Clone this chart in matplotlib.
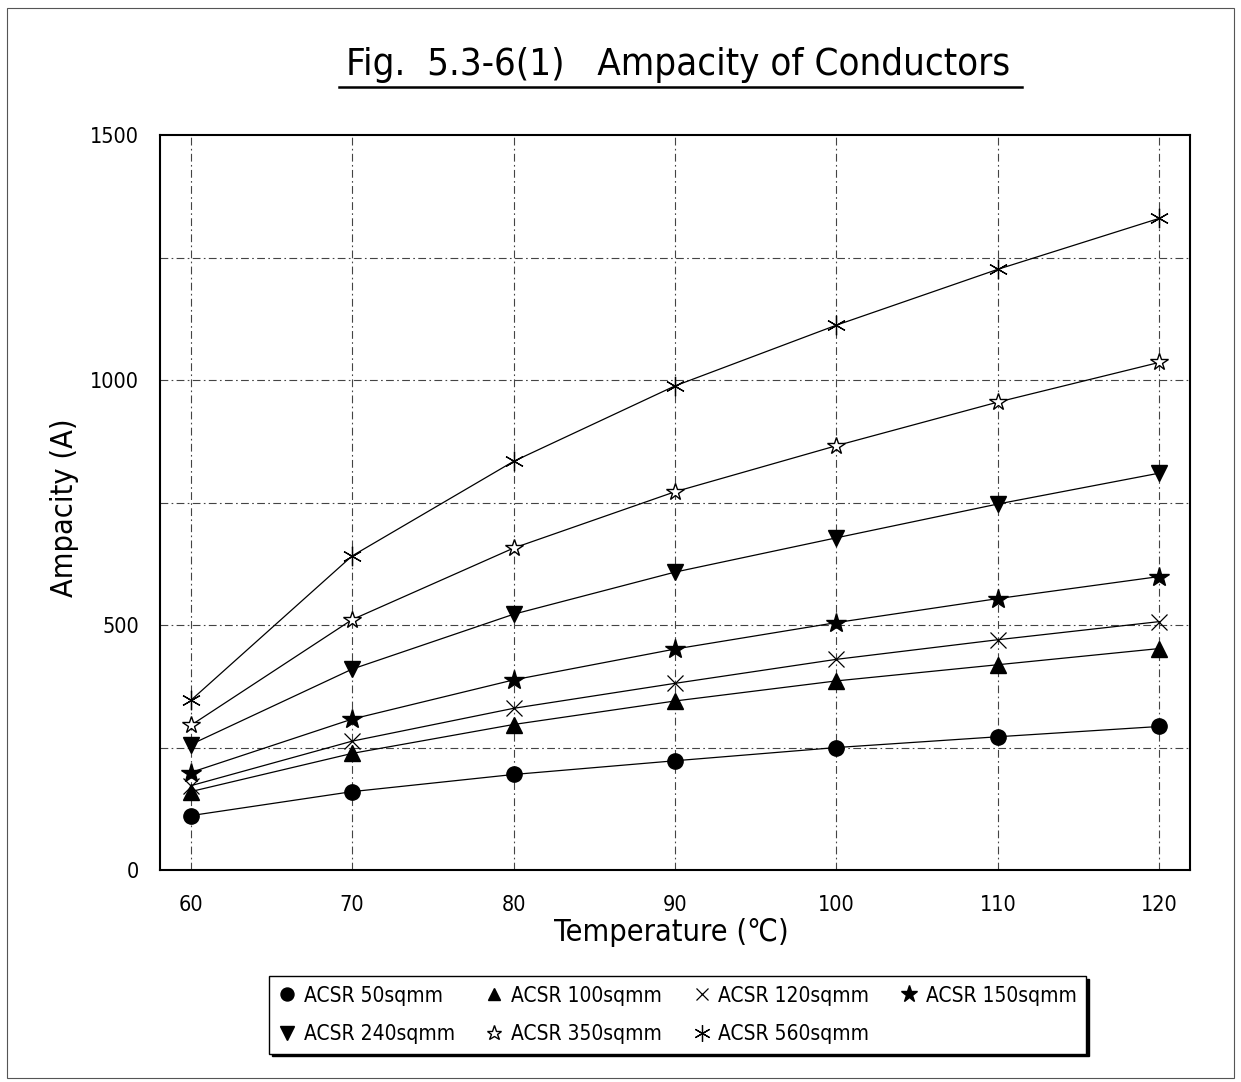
import matplotlib
matplotlib.use("Agg")
import matplotlib.pyplot as plt
from matplotlib.patches import Rectangle
from matplotlib.lines import Line2D

plt.rcParams['font.family'] = ['DejaVu Sans']
plt.rcParams['font.stretch'] = 'condensed'

temps = [60, 70, 80, 90, 100, 110, 120]
series_names = ["ACSR 50sqmm", "ACSR 100sqmm", "ACSR 120sqmm", "ACSR 150sqmm",
                "ACSR 240sqmm", "ACSR 350sqmm", "ACSR 560sqmm"]
acsr50 = [111, 160, 195, 223, 250, 272, 293]
acsr100 = [160, 238, 297, 345, 386, 419, 452]
acsr120 = [172, 263, 330, 381, 430, 470, 507]
acsr150 = [199, 308, 388, 451, 505, 554, 599]
acsr240 = [256, 410, 522, 608, 678, 747, 810]
acsr350 = [295, 511, 657, 772, 866, 955, 1036]
acsr560 = [346, 641, 834, 988, 1112, 1226, 1330]
values = [acsr50, acsr100, acsr120, acsr150, acsr240, acsr350, acsr560]
yticks = [0, 500, 1000, 1500]
ygrid = [250, 500, 750, 1000, 1250]

styles = [
    dict(marker='o', ms=11, mfc='black', mec='black'),
    dict(marker='^', ms=11, mfc='black', mec='black'),
    dict(marker='x', ms=11, mfc='none', mec='black', mew=0.9),
    dict(marker='*', ms=15, mfc='black', mec='black'),
    dict(marker='v', ms=12, mfc='black', mec='black'),
    dict(marker='*', ms=13, mfc='white', mec='black', mew=1.0),
    dict(marker=(6, 2, 0), ms=14, mfc='none', mec='black', mew=0.9),
]

fig = plt.figure(figsize=(12.41, 10.82), dpi=100)
ax = fig.add_axes([0.1289, 0.1959, 0.830, 0.6793])

handles = []
for name, vals, st in zip(series_names, values, styles):
    h, = ax.plot(temps, vals, color='black', lw=0.9, label=name, **st)
    handles.append(h)

ax.set_xlim(58.1, 121.9)
ax.set_ylim(0, 1500)
ax.set_xticks(temps)
ax.set_yticks(yticks)
ax.tick_params(length=0, labelsize=15.5, pad=18)
ax.tick_params(axis='y', pad=15)

gridkw = dict(color='#444444', lw=0.8, linestyle=(0, (7, 3, 1.5, 3)), zorder=0)
for t in temps:
    ax.axvline(t, **gridkw)
for g in ygrid:
    ax.axhline(g, **gridkw)

for s in ax.spines.values():
    s.set_linewidth(1.5)
    s.set_color('black')

fig.text(0.541, 0.138, "Temperature (℃)", ha='center', va='center', fontsize=22)
fig.text(0.052, 0.531, "Ampacity (A)", ha='center', va='center', rotation=90, fontsize=22)

title = fig.text(0.546, 0.94, "Fig.  5.3-6(1)   Ampacity of Conductors", ha='center',
                 va='center', fontsize=27.5)

order = [0, 4, 1, 5, 2, 6, 3]
leg = fig.legend([handles[i] for i in order], [series_names[i] for i in order],
                 ncol=4, loc='center', bbox_to_anchor=(0.546, 0.062), fontsize=15,
                 frameon=True, fancybox=False, shadow={'color': 'black', 'alpha': 1.0},
                 edgecolor='black', handlelength=0.8, handletextpad=0.4,
                 columnspacing=1.5, borderpad=0.45, labelspacing=0.9, markerscale=0.85)
leg.get_frame().set_linewidth(1.0)
for lh in leg.legend_handles:
    lh.set_linestyle('none')

# underline the title
fig.canvas.draw()
bb = title.get_window_extent().transformed(fig.transFigure.inverted())
fig.add_artist(Line2D([bb.x0 - 0.005, bb.x1 + 0.01], [bb.y0 - 0.004, bb.y0 - 0.004],
                      color='black', lw=1.8, transform=fig.transFigure))

# outer frame
fig.add_artist(Rectangle((0.006, 0.004), 0.988, 0.989, transform=fig.transFigure,
                         fill=False, edgecolor='#555555', lw=0.8))

fig.savefig("out.png", dpi=100)
